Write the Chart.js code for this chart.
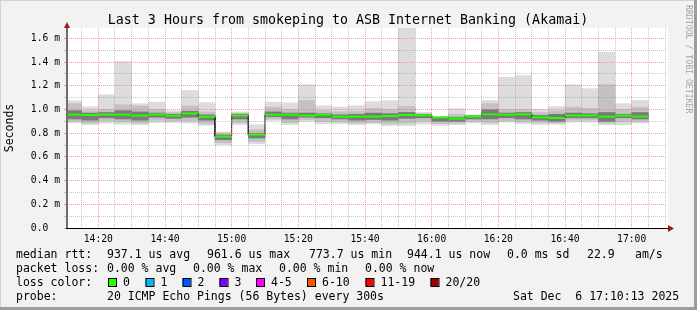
<!DOCTYPE html>
<html>
<head>
<meta charset="utf-8">
<script src="https://cdn.jsdelivr.net/npm/chart.js@4/dist/chart.umd.min.js"></script>
<style>
  html, body { margin: 0; padding: 0; background: #f2f2f2; }
  #wrap { width: 697px; height: 310px; }
</style>
</head>
<body>
<div id="wrap"><canvas id="c" width="697" height="310"></canvas></div>
<script>
// --- data: one 300s step per entry, labelled by its end time ---
const stepEnds = ["14:15", "14:20", "14:25", "14:30", "14:35", "14:40", "14:45", "14:50", "14:55",
    "15:00", "15:05", "15:10", "15:15", "15:20", "15:25", "15:30", "15:35", "15:40", "15:45", "15:50", "15:55",
    "16:00", "16:05", "16:10", "16:15", "16:20", "16:25", "16:30", "16:35", "16:40", "16:45", "16:50", "16:55",
    "17:00", "17:05"];

// smoke bands in ms (outer pings -> inner pings)
const smokeMax = [1.074, 1.023, 1.125, 1.404, 1.049, 1.063, 0.990, 1.161, 1.057, 0.810, 0.979, 0.872,
    1.063, 1.056, 1.209, 1.032, 1.021, 1.033, 1.067, 1.075, 1.690, 0.975, 0.940, 1.007, 0.953,
    1.076, 1.271, 1.287, 1.001, 1.024, 1.209, 1.176, 1.482, 1.049, 1.076];
const smokeHi = [1.050, 0.990, 1.000, 1.040, 1.030, 1.000, 0.975, 1.030, 0.980, 0.800, 0.970, 0.830,
    1.020, 1.000, 1.076, 0.990, 0.980, 0.985, 1.010, 1.000, 1.026, 0.965, 0.937, 0.960, 0.950,
    1.050, 1.000, 1.000, 0.975, 0.990, 1.020, 1.010, 1.209, 1.000, 1.020];
const coreHi = [0.990, 0.970, 0.975, 0.990, 0.980, 0.970, 0.960, 0.985, 0.955, 0.785, 0.960, 0.800,
    0.980, 0.970, 0.970, 0.965, 0.955, 0.960, 0.970, 0.965, 0.975, 0.958, 0.935, 0.935, 0.945,
    1.000, 0.970, 0.975, 0.950, 0.960, 0.970, 0.965, 0.975, 0.960, 0.975];
const medianRtt = [0.955, 0.953, 0.958, 0.955, 0.950, 0.958, 0.948, 0.966, 0.940, 0.773, 0.950, 0.787,
    0.956, 0.955, 0.950, 0.955, 0.940, 0.942, 0.942, 0.946, 0.953, 0.952, 0.932, 0.925, 0.942,
    0.961, 0.956, 0.960, 0.935, 0.929, 0.950, 0.949, 0.940, 0.950, 0.942];
const coreLo = [0.920, 0.910, 0.930, 0.920, 0.910, 0.935, 0.925, 0.935, 0.910, 0.745, 0.920, 0.760,
    0.940, 0.920, 0.935, 0.930, 0.920, 0.910, 0.915, 0.910, 0.925, 0.930, 0.900, 0.900, 0.920,
    0.920, 0.930, 0.920, 0.910, 0.900, 0.930, 0.930, 0.900, 0.930, 0.920];
const smokeLo = [0.900, 0.885, 0.905, 0.895, 0.885, 0.910, 0.905, 0.905, 0.880, 0.720, 0.890, 0.730,
    0.920, 0.890, 0.915, 0.900, 0.895, 0.885, 0.890, 0.880, 0.885, 0.900, 0.880, 0.885, 0.900,
    0.890, 0.905, 0.895, 0.890, 0.885, 0.910, 0.910, 0.885, 0.895, 0.900];
const smokeMin = [0.890, 0.872, 0.885, 0.877, 0.872, 0.891, 0.890, 0.886, 0.866, 0.703, 0.872, 0.711,
    0.908, 0.872, 0.900, 0.880, 0.880, 0.872, 0.880, 0.863, 0.863, 0.877, 0.866, 0.872, 0.886,
    0.872, 0.894, 0.880, 0.872, 0.877, 0.894, 0.894, 0.872, 0.872, 0.886];

// axis labels
const xTickLabels = ["14:20", "14:40", "15:00", "15:20", "15:40", "16:00", "16:20", "16:40", "17:00"];
const yTickLabels = ["0.0", "0.2 m", "0.4 m", "0.6 m", "0.8 m", "1.0 m", "1.2 m", "1.4 m", "1.6 m"];

// legend
const lossLabels = ["0", "1", "2", "3", "4-5", "6-10", "11-19", "20/20"];
const lossColors = ["#26ff00", "#00b8ff", "#0059ff", "#7e00ff", "#ff00ff", "#ff5500", "#ff0000", "#a00000"];

const TITLE = "Last 3 Hours from smokeping to ASB Internet Banking (Akamai)";
const MONO = '"DejaVu Sans Mono", monospace';

// --- helpers ---
const toMin = t => { const [h, m] = t.split(':').map(Number); return h * 60 + m; };
const STEP = 5;
const xMin = 850.6, xMax = 1030.6, yMax = 1.688;

const stepStart = stepEnds.map(t => toMin(t) - STEP);
const band = (lo, hi) => stepEnds.map((t, i) => ({ x: toMin(t) - STEP / 2, y: [lo[i], hi[i]] }));

const greenPts = [];
const blackPts = [];
medianRtt.forEach((m, i) => {
    const s = stepStart[i], e = s + STEP;
    greenPts.push({ x: s, y: m }, { x: e, y: m }, { x: e, y: null });
    blackPts.push({ x: s, y: m }, { x: e, y: m });
});

const xGrid = [];
for (let v = 855; v <= 1030; v += STEP) xGrid.push(v);
const yGrid = [];
for (let i = 0; i <= 16; i++) yGrid.push(i / 10);

const GRID = 'rgba(150,150,150,0.55)';
const MGRID = 'rgba(240,120,120,0.7)';

// --- frame, axes, title, legend ---
const decor = {
    id: 'decor',
    beforeDraw(chart) {
        const { ctx, width, height, chartArea: a } = chart;
        ctx.save();
        ctx.fillStyle = '#f2f2f2';
        ctx.fillRect(0, 0, width, height);
        ctx.fillStyle = '#d2d2d2';
        ctx.fillRect(0, 0, width, 1);
        ctx.fillRect(0, 0, 1, height);
        ctx.fillStyle = '#9c9c9c';
        ctx.fillRect(width - 3, 0, 3, height);
        ctx.fillRect(0, height - 3, width, 3);
        ctx.fillStyle = '#ffffff';
        ctx.fillRect(a.left, a.top, a.right - a.left + 1, a.bottom - a.top);
        ctx.restore();
    },
    afterDraw(chart) {
        const { ctx, chartArea: a } = chart;
        ctx.save();
        // axes
        ctx.fillStyle = '#6e6e6e';
        ctx.fillRect(a.left - 1, a.top - 1, 2, a.bottom - a.top + 1);
        ctx.fillStyle = '#000';
        ctx.fillRect(a.left - 1, a.bottom, a.right - a.left + 3, 1);
        // arrows
        ctx.fillStyle = '#9b1b1b';
        ctx.beginPath();
        ctx.moveTo(a.left - 3, a.top);
        ctx.lineTo(a.left + 3, a.top);
        ctx.lineTo(a.left, a.top - 6);
        ctx.fill();
        ctx.beginPath();
        ctx.moveTo(a.right + 1, a.bottom - 3);
        ctx.lineTo(a.right + 1, a.bottom + 4);
        ctx.lineTo(a.right + 7, a.bottom + 0.5);
        ctx.fill();

        // title
        ctx.fillStyle = '#000';
        ctx.font = '13.3px ' + MONO;
        ctx.textAlign = 'center';
        ctx.textBaseline = 'alphabetic';
        ctx.fillText(TITLE, 348, 24);

        // legend
        ctx.font = '11.5px ' + MONO;
        ctx.textAlign = 'left';
        const rows = [
            [258, [[16, 'median rtt:'], [107, '937.1 us avg'], [207, '961.6 us max'], [309, '773.7 us min'],
                   [407, '944.1 us now'], [507, '0.0 ms sd'], [587, '22.9'], [635, 'am/s']]],
            [272, [[16, 'packet loss:'], [107, '0.00 % avg'], [193, '0.00 % max'], [279, '0.00 % min'], [365, '0.00 % now']]],
            [286, [[16, 'loss color:']]],
            [300, [[16, 'probe:'], [107, '20 ICMP Echo Pings (56 Bytes) every 300s'], [513, 'Sat Dec  6 17:10:13 2025']]]
        ];
        rows.forEach(([y, items]) => items.forEach(([x, t]) => ctx.fillText(t, x, y)));

        const boxX = [108, 145.5, 182.5, 219.5, 256, 307, 365.5, 430.5];
        lossLabels.forEach((lab, i) => {
            ctx.fillStyle = lossColors[i];
            ctx.fillRect(boxX[i], 278, 8, 8);
            ctx.strokeStyle = '#000';
            ctx.lineWidth = 1;
            ctx.strokeRect(boxX[i] + 0.5, 278.5, 8, 8);
            ctx.fillStyle = '#000';
            ctx.fillText(lab, boxX[i] + 15, 286);
        });

        // watermark
        ctx.translate(688, 5);
        ctx.rotate(Math.PI / 2);
        ctx.font = '8.2px ' + MONO;
        ctx.fillStyle = '#a4a4a4';
        ctx.textBaseline = 'middle';
        ctx.fillText('RRDTOOL / TOBI OETIKER', 0, 0);
        ctx.restore();
    }
};

new Chart(document.getElementById('c'), {
    type: 'bar',
    data: {
        datasets: [
            { type: 'line', data: greenPts, borderColor: '#26ff00', borderWidth: 2, pointRadius: 0,
              spanGaps: false, tension: 0, clip: 0, order: 0 },
            { type: 'line', data: blackPts, borderColor: '#1a1a1a', borderWidth: 1, pointRadius: 0,
              tension: 0, clip: 0, order: 1 },
            { data: band(coreLo, coreHi), backgroundColor: '#7a7a7a', order: 2 },
            { data: band(smokeLo, smokeHi), backgroundColor: '#c2c2c2', order: 3 },
            { data: band(smokeMin, smokeMax), backgroundColor: '#dcdcdc', order: 4 }
        ]
    },
    options: {
        responsive: false,
        animation: false,
        events: [],
        layout: { padding: { top: 28, right: 30, left: 0, bottom: 0 } },
        plugins: { legend: { display: false }, tooltip: { enabled: false } },
        datasets: {
            bar: { barPercentage: 1, categoryPercentage: 1, grouped: false, borderWidth: 0, clip: 0 }
        },
        scales: {
            x: {
                type: 'linear', min: xMin, max: xMax, offset: false,
                afterFit: s => { s.height = 82; },
                afterBuildTicks: s => { s.ticks = xGrid.map(v => ({ value: v })); },
                ticks: {
                    autoSkip: false, maxRotation: 0, padding: 6, color: '#000',
                    font: { family: MONO, size: 9.7 },
                    callback: v => xTickLabels.find(l => toMin(l) === v) || ''
                },
                grid: {
                    offset: false, drawTicks: false, z: 1, lineWidth: 1,
                    color: c => (c.tick && c.tick.value % 20 === 0) ? MGRID : GRID
                },
                border: { display: false, dash: [1, 1] }
            },
            y: {
                type: 'linear', min: 0, max: yMax,
                afterFit: s => { s.width = 67; },
                afterBuildTicks: s => { s.ticks = yGrid.map(v => ({ value: v })); },
                ticks: {
                    autoSkip: false, padding: 4, color: '#000',
                    font: { family: MONO, size: 9.7 },
                    callback: (v, i) => i % 2 === 0 ? yTickLabels[i / 2].padEnd(5) : ''
                },
                grid: {
                    z: 1, lineWidth: 1, tickLength: 3,
                    color: c => (c.tick && c.index % 2 === 0) ? MGRID : GRID,
                    tickColor: c => (c.tick && c.index % 2 === 0) ? MGRID : GRID
                },
                border: { display: false, dash: [1, 1] },
                title: {
                    display: true, text: 'Seconds', color: '#000',
                    font: { family: MONO, size: 11.5 }, padding: { top: 3, bottom: 0 }
                }
            }
        }
    },
    plugins: [decor]
});
</script>
</body>
</html>
